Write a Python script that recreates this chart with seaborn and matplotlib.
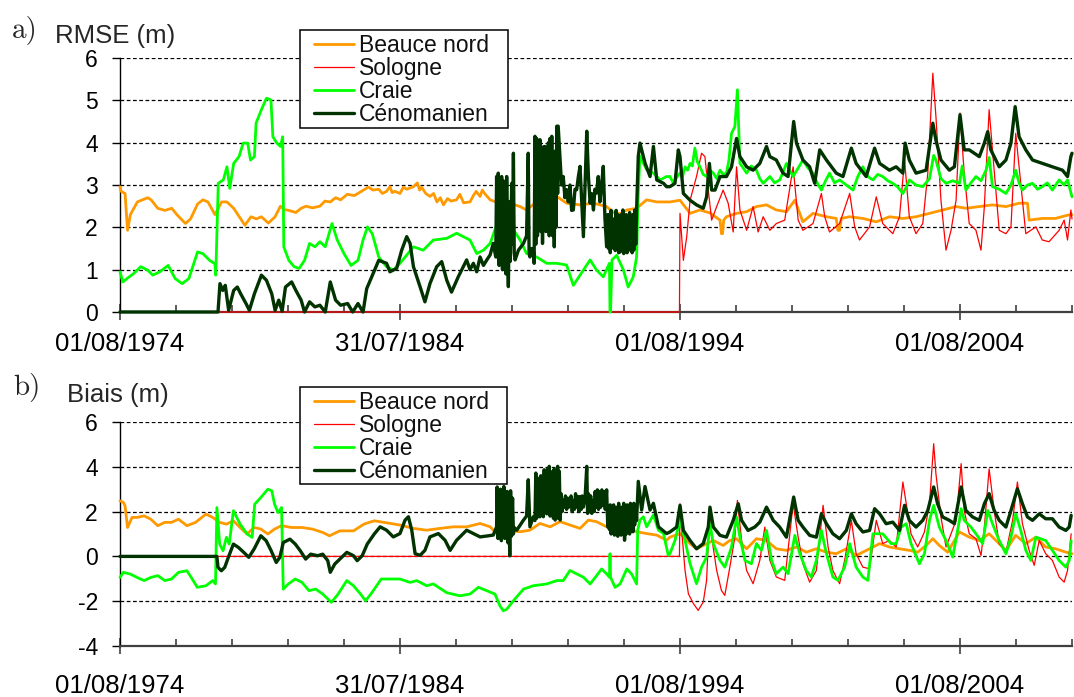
import matplotlib
matplotlib.use("Agg")
import matplotlib.pyplot as plt
from matplotlib.patches import Rectangle
import numpy as np
import pandas as pd
import seaborn as sns

# ---------------------------------------------------------------------------
# Data: (decimal year, value) pairs per aquifer zone
# ---------------------------------------------------------------------------
zones = ["Beauce nord", "Sologne", "Craie", "Cénomanien"]
zone_colors = ["#FF9900", "#FF0000", "#00FF00", "#003300"]
zone_widths = [2.0, 0.9, 2.0, 2.4]

x_tick_pos = [1974.58, 1984.58, 1994.58, 2004.58]
x_tick_labels = ["01/08/1974", "31/07/1984", "01/08/1994", "01/08/2004"]
rmse_ticks = [0, 1, 2, 3, 4, 5, 6]
bias_ticks = [-4, -2, 0, 2, 4, 6]

# RMSE (m)
rmse_beauce = [
    (1974.58, 2.96), (1974.62, 2.85), (1974.76, 2.80), (1974.85, 1.93), (1974.95, 2.30),
    (1975.20, 2.60), (1975.57, 2.70), (1975.69, 2.65), (1975.93, 2.45), (1976.18, 2.40),
    (1976.43, 2.45), (1976.61, 2.30), (1976.92, 2.09), (1977.10, 2.20), (1977.35, 2.55),
    (1977.54, 2.65), (1977.72, 2.60), (1977.97, 2.30), (1978.21, 2.60), (1978.40, 2.60),
    (1978.64, 2.45), (1978.89, 2.20), (1979.04, 2.05), (1979.26, 2.25), (1979.45, 2.20),
    (1979.63, 2.25), (1979.88, 2.10), (1980.12, 2.25), (1980.31, 2.50), (1980.45, 2.42),
    (1980.61, 2.40), (1980.86, 2.35), (1981.05, 2.45), (1981.23, 2.50), (1981.45, 2.46),
    (1981.72, 2.50), (1981.90, 2.62), (1982.09, 2.60), (1982.28, 2.70), (1982.46, 2.65),
    (1982.70, 2.78), (1982.95, 2.75), (1983.20, 2.85), (1983.45, 2.95), (1983.62, 2.88),
    (1983.82, 2.90), (1983.95, 2.80), (1984.10, 2.85), (1984.22, 2.96), (1984.30, 2.82),
    (1984.40, 2.85), (1984.58, 2.80), (1984.70, 2.95), (1984.82, 2.90), (1985.06, 2.96),
    (1985.20, 3.05), (1985.28, 2.88), (1985.35, 2.95), (1985.50, 2.80), (1985.65, 2.73),
    (1985.78, 2.80), (1985.90, 2.60), (1986.02, 2.70), (1986.13, 2.53), (1986.28, 2.68),
    (1986.40, 2.62), (1986.60, 2.65), (1986.72, 2.78), (1986.85, 2.58), (1987.08, 2.60),
    (1987.20, 2.75), (1987.30, 2.85), (1987.44, 2.73), (1987.52, 2.88), (1987.60, 2.80),
    (1987.80, 2.65), (1988.00, 2.60), (1988.15, 2.57), (1988.39, 2.65),
    (1988.60, 2.55), (1988.87, 2.49), (1989.10, 2.41), (1989.46, 2.60), (1989.82, 2.57),
    (1990.18, 2.73), (1990.53, 2.57), (1991.01, 2.53), (1991.49, 2.57), (1991.96, 2.49),
    (1992.20, 2.35), (1992.44, 2.32), (1992.68, 2.41), (1993.03, 2.45), (1993.39, 2.65),
    (1993.75, 2.60), (1994.22, 2.60), (1994.58, 2.64), (1994.94, 2.33), (1995.29, 2.41),
    (1995.65, 2.34), (1996.01, 2.17), (1996.06, 1.85), (1996.10, 1.85), (1996.14, 2.17),
    (1996.24, 2.25), (1996.60, 2.33), (1996.96, 2.37), (1997.31, 2.49), (1997.67, 2.53),
    (1998.02, 2.41), (1998.38, 2.37), (1998.68, 2.64), (1998.97, 2.13), (1999.33, 2.33),
    (1999.81, 2.25), (2000.16, 2.21), (2000.22, 1.93), (2000.28, 1.93), (2000.34, 2.21),
    (2000.64, 2.25), (2001.11, 2.21), (2001.59, 2.13), (2002.06, 2.25), (2002.54, 2.21),
    (2003.01, 2.25), (2003.49, 2.33), (2003.96, 2.41), (2004.44, 2.49), (2004.79, 2.45),
    (2005.27, 2.49), (2005.74, 2.53), (2006.22, 2.49), (2006.69, 2.57), (2006.99, 2.57),
    (2007.05, 2.17), (2007.52, 2.21), (2007.99, 2.21), (2008.44, 2.29), (2008.58, 2.30),
]

rmse_sologne = [
    (1974.58, 0.0), (1994.56, 0.0), (1994.58, 2.33), (1994.70, 1.22), (1994.82, 1.78),
    (1994.94, 2.64), (1995.17, 3.20), (1995.35, 3.75), (1995.47, 3.67), (1995.59, 2.88),
    (1995.71, 2.17), (1995.89, 2.49), (1996.12, 2.88), (1996.30, 2.57), (1996.48, 1.89),
    (1996.60, 3.43), (1996.72, 2.41), (1996.96, 1.93), (1997.19, 2.49), (1997.37, 1.89),
    (1997.55, 2.25), (1997.79, 1.93), (1998.02, 2.09), (1998.32, 2.17), (1998.62, 3.43),
    (1998.80, 2.17), (1998.97, 1.93), (1999.33, 2.09), (1999.63, 2.80), (1999.75, 2.25),
    (1999.92, 1.89), (2000.28, 2.09), (2000.64, 2.80), (2000.82, 2.01), (2000.99, 1.70),
    (2001.35, 2.01), (2001.59, 2.72), (2001.82, 2.09), (2002.18, 1.85), (2002.42, 2.25),
    (2002.60, 3.59), (2002.77, 2.25), (2003.01, 1.85), (2003.25, 2.09), (2003.43, 3.28),
    (2003.61, 5.64), (2003.72, 4.62), (2003.90, 2.64), (2004.08, 1.46), (2004.26, 1.93),
    (2004.44, 2.64), (2004.58, 4.70), (2004.73, 3.28), (2004.91, 2.09), (2005.15, 1.93),
    (2005.33, 1.46), (2005.45, 2.49), (2005.62, 4.78), (2005.80, 3.35), (2005.98, 1.93),
    (2006.22, 1.85), (2006.40, 2.01), (2006.57, 4.22), (2006.75, 3.04), (2006.93, 1.85),
    (2007.29, 2.01), (2007.52, 1.70), (2007.76, 1.66), (2008.12, 1.93), (2008.30, 2.17),
    (2008.42, 1.70), (2008.54, 2.41), (2008.58, 2.20),
]

rmse_craie = [
    (1974.58, 0.95), (1974.68, 0.71), (1974.83, 0.79), (1975.07, 0.91), (1975.32, 1.07),
    (1975.57, 0.99), (1975.75, 0.87), (1976.00, 0.95), (1976.30, 1.10), (1976.55, 0.79),
    (1976.80, 0.67), (1977.04, 0.79), (1977.35, 1.42), (1977.54, 1.38), (1977.78, 1.22),
    (1977.97, 1.14), (1978.00, 0.87), (1978.09, 3.04), (1978.27, 3.12), (1978.40, 3.43),
    (1978.50, 2.92), (1978.64, 3.51), (1978.83, 3.67), (1978.98, 3.99), (1979.14, 3.99),
    (1979.24, 3.59), (1979.38, 3.67), (1979.44, 4.46), (1979.63, 4.78), (1979.81, 5.05),
    (1979.97, 5.01), (1980.04, 4.14), (1980.18, 3.99), (1980.31, 3.91), (1980.39, 4.14),
    (1980.43, 1.54), (1980.61, 1.22), (1980.80, 1.07), (1980.98, 1.03), (1981.17, 1.22),
    (1981.35, 1.62), (1981.54, 1.54), (1981.72, 1.66), (1981.91, 1.54), (1982.15, 2.09),
    (1982.34, 1.70), (1982.58, 1.38), (1982.83, 1.10), (1983.08, 1.22), (1983.26, 1.70),
    (1983.42, 2.01), (1983.59, 1.85), (1983.82, 1.30), (1984.10, 1.07), (1984.34, 0.99),
    (1984.58, 1.15), (1985.06, 1.54), (1985.41, 1.46), (1985.77, 1.70), (1986.25, 1.74),
    (1986.60, 1.86), (1986.84, 1.78), (1987.08, 1.70), (1987.32, 1.38), (1987.56, 1.46),
    (1987.80, 1.62), (1987.97, 1.94), (1988.15, 2.25), (1988.33, 2.41), (1988.45, 2.29),
    (1988.63, 1.94), (1988.87, 1.70), (1989.10, 1.38), (1989.46, 1.30), (1989.82, 1.15),
    (1990.18, 1.15), (1990.53, 1.11), (1990.77, 0.63), (1991.01, 0.87), (1991.37, 1.23),
    (1991.60, 0.99), (1991.84, 0.83), (1992.06, 1.15), (1992.08, 0.00), (1992.10, 0.00),
    (1992.15, 1.23), (1992.32, 1.34), (1992.56, 0.99), (1992.73, 0.59), (1992.91, 0.83),
    (1993.03, 1.30), (1993.09, 2.81), (1993.15, 3.68), (1993.39, 3.36), (1993.63, 3.28),
    (1993.87, 3.12), (1994.10, 3.20), (1994.22, 3.20), (1994.34, 3.05), (1994.46, 3.18),
    (1994.58, 3.28), (1994.67, 3.20), (1994.76, 3.43), (1994.85, 3.35), (1994.94, 3.51),
    (1995.02, 3.45), (1995.11, 3.87), (1995.20, 3.55), (1995.29, 3.43), (1995.41, 3.25),
    (1995.53, 3.20), (1995.65, 3.35), (1995.77, 3.28), (1995.89, 3.15), (1996.01, 3.35),
    (1996.12, 3.25), (1996.24, 3.28), (1996.33, 3.60), (1996.42, 4.22), (1996.54, 4.38),
    (1996.63, 5.25), (1996.72, 3.51), (1996.84, 3.40), (1996.96, 3.28), (1997.13, 3.45),
    (1997.31, 3.35), (1997.43, 3.15), (1997.55, 3.04), (1997.67, 3.12), (1997.79, 3.20),
    (1997.96, 3.05), (1998.14, 3.12), (1998.26, 3.30), (1998.38, 3.51), (1998.50, 3.35),
    (1998.62, 3.20), (1998.80, 3.40), (1998.97, 3.59), (1999.15, 3.40), (1999.33, 3.28),
    (1999.48, 3.05), (1999.63, 2.88), (1999.78, 3.10), (1999.92, 3.28), (2000.10, 3.05),
    (2000.28, 3.12), (2000.52, 3.00), (2000.76, 2.88), (2000.93, 3.20), (2001.11, 3.43),
    (2001.29, 3.20), (2001.47, 3.12), (2001.64, 3.25), (2001.82, 3.20), (2002.00, 3.10),
    (2002.18, 3.04), (2002.36, 2.95), (2002.54, 2.80), (2002.66, 2.95), (2002.77, 3.12),
    (2003.01, 3.00), (2003.25, 2.96), (2003.49, 3.15), (2003.64, 3.70), (2003.72, 3.59),
    (2003.90, 3.15), (2004.08, 3.04), (2004.32, 3.10), (2004.56, 3.04), (2004.66, 3.45),
    (2004.79, 2.88), (2004.97, 3.05), (2005.15, 3.20), (2005.33, 3.10), (2005.51, 3.35),
    (2005.62, 3.65), (2005.74, 2.96), (2005.98, 2.90), (2006.22, 2.80), (2006.40, 3.00),
    (2006.57, 3.35), (2006.69, 3.05), (2006.81, 2.88), (2006.99, 3.00), (2007.17, 3.04),
    (2007.35, 2.90), (2007.52, 2.96), (2007.70, 3.05), (2007.88, 2.88), (2008.00, 3.00),
    (2008.12, 3.12), (2008.30, 3.00), (2008.42, 3.12), (2008.58, 2.72),
]

rmse_cenomanien = [
    (1974.58, 0.00), (1978.08, 0.00), (1978.15, 0.67), (1978.25, 0.51), (1978.34, 0.63),
    (1978.46, 0.04), (1978.64, 0.51), (1978.77, 0.59), (1978.89, 0.43), (1979.08, 0.20),
    (1979.20, 0.04), (1979.38, 0.43), (1979.63, 0.87), (1979.81, 0.75), (1980.00, 0.43),
    (1980.12, 0.04), (1980.25, 0.28), (1980.37, 0.02), (1980.49, 0.59), (1980.71, 0.71),
    (1980.86, 0.51), (1981.05, 0.28), (1981.17, 0.00), (1981.35, 0.24), (1981.54, 0.12),
    (1981.72, 0.16), (1981.91, 0.00), (1982.09, 0.71), (1982.28, 0.28), (1982.46, 0.16),
    (1982.71, 0.20), (1982.89, 0.00), (1983.08, 0.20), (1983.26, 0.00), (1983.39, 0.55),
    (1983.57, 0.83), (1983.82, 1.22), (1984.10, 1.15), (1984.22, 0.95), (1984.46, 1.03),
    (1984.64, 1.46), (1984.82, 1.78), (1984.94, 1.62), (1985.06, 1.07), (1985.30, 0.59),
    (1985.47, 0.24), (1985.65, 0.67), (1985.89, 1.07), (1986.07, 1.19), (1986.25, 0.75),
    (1986.42, 0.47), (1986.66, 0.83), (1986.96, 1.23), (1987.08, 1.00), (1987.20, 1.15),
    (1987.32, 0.95), (1987.44, 1.30), (1987.56, 1.10), (1987.68, 1.23), (1987.80, 1.35),
    (1987.91, 1.62), (1988.00, 1.30), (1988.03, 3.20), (1988.06, 1.30), (1988.09, 3.28),
    (1988.12, 1.10), (1988.15, 3.00), (1988.18, 1.40), (1988.21, 3.20), (1988.24, 1.00),
    (1988.27, 3.10), (1988.30, 1.20), (1988.33, 2.89), (1988.36, 0.90), (1988.39, 3.20),
    (1988.42, 1.50), (1988.45, 0.60), (1988.49, 2.60), (1988.52, 1.20), (1988.57, 3.04),
    (1988.60, 1.60), (1988.63, 3.75), (1988.66, 1.40), (1988.69, 1.23), (1988.81, 1.46),
    (1988.99, 1.62), (1989.10, 1.80), (1989.16, 3.75), (1989.19, 1.40), (1989.22, 1.30),
    (1989.28, 1.50), (1989.34, 1.46), (1989.37, 1.15), (1989.40, 4.15), (1989.43, 1.60),
    (1989.46, 4.10), (1989.49, 1.80), (1989.52, 4.00), (1989.55, 2.00), (1989.58, 4.07),
    (1989.61, 1.90), (1989.64, 3.80), (1989.67, 1.62), (1989.70, 3.90), (1989.73, 2.00),
    (1989.76, 3.91), (1989.79, 1.90), (1989.82, 3.83), (1989.85, 2.20), (1989.88, 4.00),
    (1989.91, 1.80), (1989.94, 4.10), (1989.97, 2.00), (1990.00, 4.15), (1990.03, 1.80),
    (1990.06, 3.60), (1990.09, 1.54), (1990.12, 3.80), (1990.15, 2.00), (1990.18, 4.39),
    (1990.21, 2.80), (1990.23, 4.39), (1990.30, 3.60), (1990.35, 3.00), (1990.41, 3.20),
    (1990.47, 2.70), (1990.53, 2.89), (1990.59, 2.60), (1990.65, 3.00), (1990.71, 2.40),
    (1990.77, 2.41), (1990.83, 2.90), (1990.89, 2.89), (1990.95, 3.20), (1991.01, 3.44),
    (1991.07, 2.60), (1991.13, 1.78), (1991.19, 3.00), (1991.25, 4.27), (1991.31, 3.20),
    (1991.37, 2.57), (1991.42, 2.80), (1991.49, 2.41), (1991.54, 2.90), (1991.60, 2.81),
    (1991.66, 3.20), (1991.72, 2.60), (1991.78, 3.00), (1991.84, 3.44), (1991.90, 2.20),
    (1991.96, 1.54), (1992.00, 2.30), (1992.03, 1.50), (1992.06, 2.30), (1992.09, 1.40),
    (1992.12, 2.40), (1992.15, 1.60), (1992.18, 2.20), (1992.21, 1.50), (1992.24, 1.94),
    (1992.27, 1.45), (1992.30, 2.40), (1992.33, 1.50), (1992.36, 2.30), (1992.39, 1.40),
    (1992.42, 2.20), (1992.45, 1.42), (1992.48, 2.30), (1992.51, 1.50), (1992.54, 2.41),
    (1992.57, 1.38), (1992.60, 2.20), (1992.63, 1.50), (1992.66, 2.30), (1992.69, 1.40),
    (1992.72, 2.20), (1992.75, 1.46), (1992.78, 2.35), (1992.81, 1.50), (1992.84, 2.20),
    (1992.87, 1.40), (1992.90, 2.30), (1992.93, 1.46), (1992.96, 2.41), (1993.00, 1.60),
    (1993.03, 2.41), (1993.09, 3.68), (1993.15, 3.99), (1993.33, 3.52), (1993.51, 3.20),
    (1993.63, 3.91), (1993.75, 3.12), (1993.99, 3.04), (1994.10, 2.96), (1994.22, 2.96),
    (1994.40, 3.04), (1994.52, 3.83), (1994.58, 3.67), (1994.70, 2.80), (1994.94, 2.64),
    (1995.17, 2.53), (1995.41, 2.45), (1995.53, 2.72), (1995.63, 3.51), (1995.71, 2.88),
    (1995.83, 2.88), (1996.01, 3.20), (1996.24, 3.20), (1996.42, 3.43), (1996.60, 4.10),
    (1996.72, 3.67), (1996.96, 3.43), (1997.19, 3.35), (1997.43, 3.51), (1997.67, 3.91),
    (1997.79, 3.67), (1998.02, 3.59), (1998.26, 3.28), (1998.44, 3.20), (1998.64, 4.50),
    (1998.74, 3.99), (1998.97, 3.59), (1999.21, 3.43), (1999.39, 3.04), (1999.57, 3.83),
    (1999.81, 3.59), (2000.16, 3.28), (2000.40, 3.20), (2000.70, 3.87), (2000.87, 3.51),
    (2001.23, 3.20), (2001.53, 3.87), (2001.71, 3.51), (2002.06, 3.35), (2002.30, 3.43),
    (2002.54, 3.28), (2002.62, 3.99), (2002.77, 3.59), (2003.01, 3.28), (2003.37, 3.35),
    (2003.61, 4.46), (2003.72, 4.06), (2003.90, 3.59), (2004.20, 3.35), (2004.38, 3.43),
    (2004.58, 4.66), (2004.73, 3.83), (2004.91, 3.83), (2005.27, 3.67), (2005.45, 3.99),
    (2005.57, 4.26), (2005.68, 3.83), (2005.98, 3.43), (2006.22, 3.59), (2006.40, 3.99),
    (2006.55, 4.85), (2006.69, 4.14), (2006.93, 3.83), (2007.17, 3.59), (2007.52, 3.51),
    (2007.88, 3.43), (2008.24, 3.35), (2008.42, 3.20), (2008.54, 3.67), (2008.58, 3.75),
]

# Biais (m)
bias_beauce = [
    (1974.58, 2.48), (1974.70, 2.41), (1974.76, 2.26), (1974.85, 1.29), (1975.01, 1.74),
    (1975.19, 1.74), (1975.44, 1.81), (1975.68, 1.66), (1975.93, 1.37), (1976.18, 1.52),
    (1976.42, 1.52), (1976.67, 1.66), (1976.97, 1.37), (1977.28, 1.52), (1977.65, 1.89),
    (1977.89, 1.74), (1978.14, 1.52), (1978.38, 1.44), (1978.63, 1.59), (1978.87, 1.29),
    (1979.12, 1.00), (1979.37, 1.29), (1979.61, 1.22), (1979.86, 1.00), (1980.10, 1.22),
    (1980.35, 1.37), (1980.71, 1.29), (1981.08, 1.29), (1981.45, 1.22), (1981.82, 1.07),
    (1982.06, 0.92), (1982.43, 1.14), (1982.92, 1.14), (1983.29, 1.44), (1983.66, 1.59),
    (1984.10, 1.50), (1984.34, 1.45), (1984.58, 1.40), (1985.06, 1.25), (1985.53, 1.17),
    (1986.01, 1.25), (1986.49, 1.32), (1986.96, 1.32), (1987.44, 1.47), (1987.80, 1.32),
    (1988.03, 1.02), (1988.39, 1.17), (1988.87, 1.10), (1989.22, 1.17), (1989.58, 1.47),
    (1989.94, 1.32), (1990.30, 1.55), (1990.65, 1.40), (1991.01, 1.25), (1991.31, 1.62),
    (1991.60, 1.55), (1991.96, 1.32), (1992.32, 1.17), (1992.68, 1.25), (1993.03, 1.10),
    (1993.39, 1.02), (1993.75, 0.95), (1994.10, 0.72), (1994.22, 0.86), (1994.58, 1.01),
    (1994.94, 0.57), (1995.17, 0.34), (1995.41, 0.49), (1995.77, 0.71), (1996.12, 0.49),
    (1996.36, 0.71), (1996.60, 0.79), (1996.96, 0.34), (1997.31, 0.79), (1997.67, 0.71),
    (1998.02, 0.34), (1998.38, 0.27), (1998.74, 0.42), (1999.09, 0.19), (1999.45, 0.34),
    (1999.81, 0.19), (2000.16, 0.12), (2000.52, 0.34), (2000.87, 0.04), (2001.35, 0.34),
    (2001.71, 0.57), (2002.06, 0.42), (2002.42, 0.34), (2002.77, 0.27), (2003.07, 0.19),
    (2003.37, 0.49), (2003.61, 0.79), (2003.84, 0.49), (2004.14, 0.19), (2004.56, 1.09),
    (2004.91, 0.86), (2005.27, 0.71), (2005.62, 1.01), (2005.98, 0.57), (2006.22, 0.27),
    (2006.57, 0.94), (2006.93, 0.57), (2007.29, 0.86), (2007.64, 0.42), (2007.99, 0.34),
    (2008.36, 0.19), (2008.58, 0.12),
]

bias_sologne = [
    (1974.58, 0.0), (1994.56, 0.0), (1994.58, 2.35), (1994.64, 1.16), (1994.76, -0.63),
    (1994.88, -1.67), (1995.06, -2.11), (1995.23, -2.41), (1995.41, -2.04), (1995.53, -1.07),
    (1995.63, 1.76), (1995.71, 0.86), (1995.89, -0.63), (1996.06, -1.52), (1996.18, -1.74),
    (1996.36, -0.48), (1996.54, 0.86), (1996.63, 2.50), (1996.78, 0.71), (1996.96, -0.63),
    (1997.19, -1.22), (1997.43, -0.18), (1997.61, 1.31), (1997.79, -0.18), (1998.02, -0.92),
    (1998.32, -1.07), (1998.62, 2.35), (1998.80, 0.86), (1998.97, -0.33), (1999.21, -1.15),
    (1999.45, -0.63), (1999.69, 2.28), (1999.87, 0.42), (2000.04, -0.63), (2000.28, -1.22),
    (2000.46, -0.18), (2000.70, 1.61), (2000.87, 0.12), (2001.11, -0.48), (2001.35, -0.55),
    (2001.59, 1.61), (2001.82, 0.57), (2002.06, 0.71), (2002.30, 0.42), (2002.54, 3.32),
    (2002.66, 2.35), (2002.83, 1.01), (2003.07, 0.42), (2003.31, 1.09), (2003.49, 2.35),
    (2003.64, 5.03), (2003.72, 3.69), (2003.90, 1.76), (2004.08, 0.42), (2004.26, 1.01),
    (2004.44, 1.61), (2004.62, 4.14), (2004.73, 2.05), (2004.91, 1.01), (2005.15, 0.79),
    (2005.33, 0.04), (2005.45, 1.31), (2005.62, 3.91), (2005.80, 2.05), (2005.98, 0.57),
    (2006.22, 0.19), (2006.46, 1.61), (2006.63, 3.32), (2006.81, 1.46), (2007.05, 0.27),
    (2007.23, -0.40), (2007.41, 0.71), (2007.64, 0.12), (2007.88, -0.18), (2008.12, -0.92),
    (2008.30, -1.15), (2008.42, -0.63), (2008.55, 1.01),
]

bias_craie = [
    (1974.58, -0.94), (1974.70, -0.71), (1974.95, -0.79), (1975.19, -0.94), (1975.44, -1.08),
    (1975.68, -0.94), (1975.93, -0.86), (1976.18, -1.08), (1976.42, -1.01), (1976.67, -0.71),
    (1976.97, -0.64), (1977.16, -1.01), (1977.34, -1.38), (1977.65, -1.31), (1977.89, -1.08),
    (1977.99, -1.23), (1978.04, 2.18), (1978.14, 0.55), (1978.26, 0.25), (1978.38, 0.85),
    (1978.48, 0.55), (1978.63, 2.04), (1978.75, 1.74), (1978.87, 1.44), (1979.12, 1.00),
    (1979.30, 0.85), (1979.39, 2.33), (1979.61, 2.63), (1979.86, 3.00), (1980.00, 2.93),
    (1980.10, 2.33), (1980.22, 1.96), (1980.35, 2.18), (1980.41, -1.46), (1980.59, -1.23),
    (1980.84, -1.01), (1981.08, -1.16), (1981.33, -1.53), (1981.57, -1.46), (1981.82, -1.68),
    (1982.13, -2.05), (1982.37, -1.68), (1982.68, -1.08), (1982.92, -1.31), (1983.17, -1.68),
    (1983.35, -1.98), (1983.54, -1.68), (1983.91, -1.01), (1984.22, -1.01), (1984.58, -1.01),
    (1984.94, -1.16), (1985.18, -1.08), (1985.53, -1.31), (1985.77, -1.23), (1986.25, -1.62),
    (1986.72, -1.76), (1987.08, -1.68), (1987.38, -1.38), (1987.68, -1.53), (1987.97, -1.68),
    (1988.15, -2.21), (1988.27, -2.43), (1988.39, -2.36), (1988.63, -1.98), (1988.99, -1.46),
    (1989.34, -1.31), (1989.82, -1.23), (1990.18, -1.08), (1990.41, -1.08), (1990.65, -0.63),
    (1990.89, -0.78), (1991.13, -0.93), (1991.37, -1.23), (1991.60, -0.86), (1991.78, -0.56),
    (1991.96, -0.78), (1992.06, -0.93), (1992.08, 0.12), (1992.10, -0.93), (1992.26, -1.38),
    (1992.44, -1.23), (1992.68, -0.56), (1992.85, -0.78), (1993.03, -1.23), (1993.07, 1.17),
    (1993.15, 1.62), (1993.27, 1.77), (1993.39, 1.32), (1993.63, 1.85), (1993.81, 1.17),
    (1993.99, 1.02), (1994.16, 0.05), (1994.22, 0.12), (1994.40, 0.71), (1994.58, 1.61),
    (1994.76, 0.71), (1994.94, -0.33), (1995.17, -1.22), (1995.35, -0.48), (1995.53, -0.03),
    (1995.65, 1.46), (1995.77, 0.57), (1996.01, -0.18), (1996.18, -0.48), (1996.42, 0.42),
    (1996.60, 1.76), (1996.72, 0.86), (1996.90, -0.18), (1997.13, -0.33), (1997.31, 0.57),
    (1997.49, 0.27), (1997.67, 1.16), (1997.85, -0.18), (1998.02, -0.77), (1998.26, -0.48),
    (1998.44, -0.77), (1998.68, 0.94), (1998.86, 0.12), (1999.09, -0.63), (1999.27, -0.92),
    (1999.45, -0.18), (1999.63, 1.16), (1999.81, 0.12), (2000.04, -0.92), (2000.22, -1.07),
    (2000.46, -0.48), (2000.64, 0.57), (2000.87, -0.48), (2001.11, -0.92), (2001.29, -1.07),
    (2001.47, 1.01), (2001.82, 1.01), (2002.12, 0.57), (2002.30, 0.57), (2002.48, 1.31),
    (2002.66, 1.46), (2002.83, 0.57), (2003.13, -0.33), (2003.31, 0.12), (2003.49, 1.61),
    (2003.64, 2.28), (2003.84, 1.31), (2004.08, 0.71), (2004.32, -0.03), (2004.56, 1.61),
    (2004.62, 2.13), (2004.73, 1.61), (2004.97, 1.31), (2005.15, 1.01), (2005.39, 0.57),
    (2005.57, 2.05), (2005.74, 1.46), (2005.98, 0.71), (2006.22, 0.12), (2006.40, 0.86),
    (2006.57, 1.90), (2006.75, 1.16), (2006.93, 0.27), (2007.11, -0.18), (2007.29, 0.86),
    (2007.64, 0.71), (2007.88, 0.27), (2008.12, -0.18), (2008.36, -0.48), (2008.48, -0.18),
    (2008.55, 0.71),
]

bias_cenomanien = [
    (1974.58, 0.00), (1978.04, 0.00), (1978.08, -0.49), (1978.20, -0.64), (1978.32, -0.49),
    (1978.45, -0.04), (1978.63, 0.55), (1978.81, 0.40), (1979.00, 0.18), (1979.18, -0.04),
    (1979.37, 0.33), (1979.61, 0.92), (1979.80, 0.70), (1979.98, 0.25), (1980.16, -0.27),
    (1980.29, -0.04), (1980.41, 0.62), (1980.65, 0.77), (1980.84, 0.55), (1981.02, 0.25),
    (1981.21, -0.12), (1981.39, 0.10), (1981.64, 0.03), (1981.82, 0.10), (1982.00, -0.19),
    (1982.09, -0.71), (1982.25, -0.34), (1982.43, -0.12), (1982.68, 0.18), (1982.92, 0.03),
    (1983.05, -0.19), (1983.23, 0.03), (1983.41, 0.55), (1983.66, 1.00), (1983.87, 1.32),
    (1984.10, 1.17), (1984.34, 0.87), (1984.58, 1.02), (1984.76, 1.62), (1984.88, 1.77),
    (1985.00, 1.17), (1985.12, 0.12), (1985.30, 0.05), (1985.47, 0.27), (1985.65, 0.87),
    (1985.95, 1.02), (1986.19, 0.72), (1986.37, 0.27), (1986.60, 0.72), (1986.96, 1.17),
    (1987.20, 1.02), (1987.44, 0.87), (1987.91, 0.95), (1988.03, 1.32), (1988.05, 3.10),
    (1988.08, 0.80), (1988.11, 2.90), (1988.14, 0.90), (1988.17, 3.00), (1988.20, 0.70),
    (1988.23, 2.80), (1988.26, 1.00), (1988.29, 3.12), (1988.32, 0.80), (1988.35, 2.70),
    (1988.38, 1.10), (1988.41, 2.90), (1988.44, 0.60), (1988.47, 2.50), (1988.50, 0.03),
    (1988.53, 2.93), (1988.56, 0.90), (1988.60, 2.60), (1988.63, 1.00), (1988.66, 1.29),
    (1988.75, 1.17), (1988.99, 1.62), (1989.10, 1.80), (1989.16, 3.42), (1989.22, 1.32),
    (1989.34, 1.77), (1989.40, 1.60), (1989.43, 3.72), (1989.46, 1.70), (1989.49, 3.50),
    (1989.52, 1.90), (1989.55, 3.42), (1989.58, 1.77), (1989.61, 3.60), (1989.64, 2.00),
    (1989.67, 3.30), (1989.70, 1.77), (1989.73, 3.87), (1989.76, 2.10), (1989.79, 3.60),
    (1989.82, 1.90), (1989.85, 3.90), (1989.88, 2.00), (1989.91, 4.02), (1989.94, 1.80),
    (1989.97, 3.70), (1990.00, 2.10), (1990.03, 3.80), (1990.06, 1.70), (1990.09, 3.90),
    (1990.12, 1.62), (1990.15, 3.60), (1990.18, 1.70), (1990.21, 4.02), (1990.24, 1.80),
    (1990.27, 3.80), (1990.30, 1.62), (1990.33, 2.80), (1990.37, 2.00), (1990.41, 2.52),
    (1990.45, 2.20), (1990.49, 2.70), (1990.53, 2.10), (1990.57, 2.60), (1990.61, 2.20),
    (1990.65, 2.37), (1990.69, 2.70), (1990.73, 2.00), (1990.77, 2.50), (1990.81, 2.10),
    (1990.85, 2.80), (1990.89, 2.20), (1990.93, 2.67), (1990.97, 2.00), (1991.01, 2.67),
    (1991.05, 2.10), (1991.09, 2.70), (1991.13, 2.20), (1991.19, 2.60), (1991.25, 4.02),
    (1991.28, 1.92), (1991.31, 2.80), (1991.35, 2.00), (1991.39, 2.70), (1991.43, 1.92),
    (1991.47, 2.50), (1991.51, 2.00), (1991.55, 2.90), (1991.59, 2.20), (1991.63, 2.97),
    (1991.67, 2.10), (1991.71, 2.90), (1991.75, 2.20), (1991.79, 2.97), (1991.83, 2.30),
    (1991.87, 2.90), (1991.91, 2.10), (1991.96, 2.97), (1992.00, 1.32), (1992.03, 2.20),
    (1992.06, 1.20), (1992.09, 2.30), (1992.12, 1.00), (1992.15, 2.10), (1992.18, 1.30),
    (1992.21, 2.30), (1992.24, 0.95), (1992.27, 2.00), (1992.30, 1.10), (1992.33, 2.20),
    (1992.36, 0.90), (1992.39, 2.37), (1992.42, 1.20), (1992.45, 2.10), (1992.48, 0.95),
    (1992.51, 2.20), (1992.54, 1.10), (1992.57, 2.37), (1992.60, 0.72), (1992.63, 2.10),
    (1992.66, 1.00), (1992.69, 2.30), (1992.72, 1.20), (1992.75, 2.20), (1992.78, 1.00),
    (1992.81, 2.37), (1992.84, 1.30), (1992.87, 2.20), (1992.90, 1.10), (1992.93, 2.37),
    (1992.96, 1.40), (1993.00, 2.30), (1993.03, 1.60), (1993.09, 3.35), (1993.21, 2.07),
    (1993.33, 3.12), (1993.51, 2.07), (1993.63, 2.37), (1993.81, 1.32), (1994.10, 1.02),
    (1994.22, 1.09), (1994.46, 1.31), (1994.58, 2.28), (1994.70, 1.16), (1994.94, 0.71),
    (1995.17, 0.34), (1995.41, 0.57), (1995.59, 1.31), (1995.65, 2.20), (1995.77, 1.31),
    (1996.01, 0.94), (1996.24, 0.86), (1996.48, 1.61), (1996.66, 2.35), (1996.78, 1.61),
    (1997.01, 1.16), (1997.25, 1.31), (1997.43, 1.53), (1997.67, 2.20), (1997.91, 1.61),
    (1998.14, 1.31), (1998.38, 0.86), (1998.64, 2.65), (1998.80, 1.61), (1998.97, 1.31),
    (1999.21, 0.94), (1999.45, 0.86), (1999.63, 1.90), (1999.81, 1.46), (2000.04, 1.01),
    (2000.28, 0.79), (2000.52, 1.16), (2000.70, 1.90), (2000.87, 1.46), (2001.11, 1.09),
    (2001.35, 1.16), (2001.53, 2.13), (2001.71, 1.90), (2001.94, 1.46), (2002.18, 1.53),
    (2002.42, 1.16), (2002.60, 2.28), (2002.77, 1.61), (2003.01, 1.31), (2003.25, 1.61),
    (2003.43, 2.05), (2003.64, 3.10), (2003.78, 2.35), (2003.96, 1.76), (2004.20, 1.61),
    (2004.38, 1.46), (2004.62, 3.10), (2004.79, 2.05), (2005.03, 1.76), (2005.27, 1.61),
    (2005.45, 2.35), (2005.62, 2.80), (2005.80, 2.05), (2005.98, 1.61), (2006.22, 1.31),
    (2006.40, 2.05), (2006.63, 3.02), (2006.81, 2.35), (2006.99, 1.76), (2007.17, 1.61),
    (2007.41, 1.90), (2007.64, 1.68), (2007.88, 1.68), (2008.12, 1.31), (2008.36, 1.16),
    (2008.48, 1.31), (2008.55, 1.83),
]

rmse_series = [rmse_beauce, rmse_sologne, rmse_craie, rmse_cenomanien]
bias_series = [bias_beauce, bias_sologne, bias_craie, bias_cenomanien]

# ---------------------------------------------------------------------------
# Figure
# ---------------------------------------------------------------------------
sns.set_theme(style="white")
plt.rcParams["font.family"] = ["Liberation Sans", "DejaVu Sans"]
plt.rcParams["axes.unicode_minus"] = False

W, H = 1074, 697
fig = plt.figure(figsize=(W / 100, H / 100), dpi=100)
ax_top = fig.add_axes([120 / W, (H - 312) / H, 952 / W, 254 / H])
ax_bot = fig.add_axes([120 / W, (H - 646) / H, 952 / W, 224 / H])

x_start, x_end = 1974.58, 2008.58
minor_pos = [p for p in np.arange(x_start, x_end + 0.01, 2.0)
             if min(abs(p - m) for m in x_tick_pos) > 0.1]


def draw_panel(ax, series, yticks, label_pad):
    for pts, name, col, lw in zip(series, zones, zone_colors, zone_widths):
        df = pd.DataFrame(pts, columns=["date", "value"])
        sns.lineplot(data=df, x="date", y="value", ax=ax, color=col, linewidth=lw,
                     estimator=None, sort=False, label=name, clip_on=False,
                     zorder=3)
    ax.set_xlim(x_start, x_end)
    ax.set_ylim(yticks[0], yticks[-1])
    ax.set_xlabel("")
    ax.set_ylabel("")
    ax.set_yticks(yticks)
    ax.set_yticklabels([str(v) for v in yticks], fontsize=16.5, color="black")
    ax.set_xticks(x_tick_pos)
    ax.set_xticklabels(x_tick_labels, fontsize=18.5, color="black")
    ax.set_xticks(minor_pos, minor=True)
    ax.tick_params(axis="y", which="major", direction="out", length=6, width=1,
                   color="black", pad=10, left=True)
    ax.tick_params(axis="x", which="major", direction="inout", length=11, width=1.2,
                   color="#404040", pad=label_pad, bottom=True)
    ax.tick_params(axis="x", which="minor", direction="in", length=5, width=1.2,
                   color="#404040", bottom=True)
    ax.yaxis.grid(True, linestyle=(0, (3, 2)), color="black", linewidth=0.9)
    ax.xaxis.grid(False)
    ax.set_axisbelow(True)
    for side in ("top", "right"):
        ax.spines[side].set_visible(False)
    ax.spines["left"].set_color("black")
    ax.spines["left"].set_linewidth(1.0)
    ax.spines["bottom"].set_color("#404040")
    ax.spines["bottom"].set_linewidth(1.6)
    ax.set_facecolor("white")
    if ax.get_legend() is not None:
        ax.get_legend().remove()


draw_panel(ax_top, rmse_series, rmse_ticks, 9)
draw_panel(ax_bot, bias_series, bias_ticks, 15)


def add_legend(ax, box_px, first_row_px):
    # white framed box, then the legend entries placed inside it
    x0, y0, w, h = box_px
    fig.patches.append(Rectangle((x0 / W, 1 - (y0 + h) / H), w / W, h / H,
                                 transform=fig.transFigure, facecolor="white",
                                 edgecolor="black", linewidth=1.1, zorder=5))
    handles = ax.get_lines()[:len(zones)]
    leg = fig.legend(handles, zones, loc="upper left",
                     bbox_to_anchor=((x0 + 14) / W, 1 - first_row_px / H),
                     bbox_transform=fig.transFigure, fontsize=16.5,
                     frameon=False, borderpad=0, labelspacing=0.0,
                     handlelength=1.75, handletextpad=0.22, borderaxespad=0)
    leg.set_zorder(6)
    for t in leg.get_texts():
        t.set_color("#111111")


add_legend(ax_top, (300, 30, 208, 98), 34)
add_legend(ax_bot, (300, 387, 207, 97), 391)

# Panel titles
fig.text(12 / W, 1 - 38 / H, "a)", family="cmr10", fontsize=21,
         ha="left", va="baseline")
fig.text(55 / W, 1 - 43 / H, "RMSE (m)", fontsize=18.5, ha="left", va="baseline")
fig.text(13 / W, 1 - 395 / H, "b)", family="cmr10", fontsize=21,
         ha="left", va="baseline")
fig.text(67 / W, 1 - 402 / H, "Biais (m)", fontsize=18.5, ha="left", va="baseline")

fig.savefig("out.png", dpi=100, facecolor="white")
